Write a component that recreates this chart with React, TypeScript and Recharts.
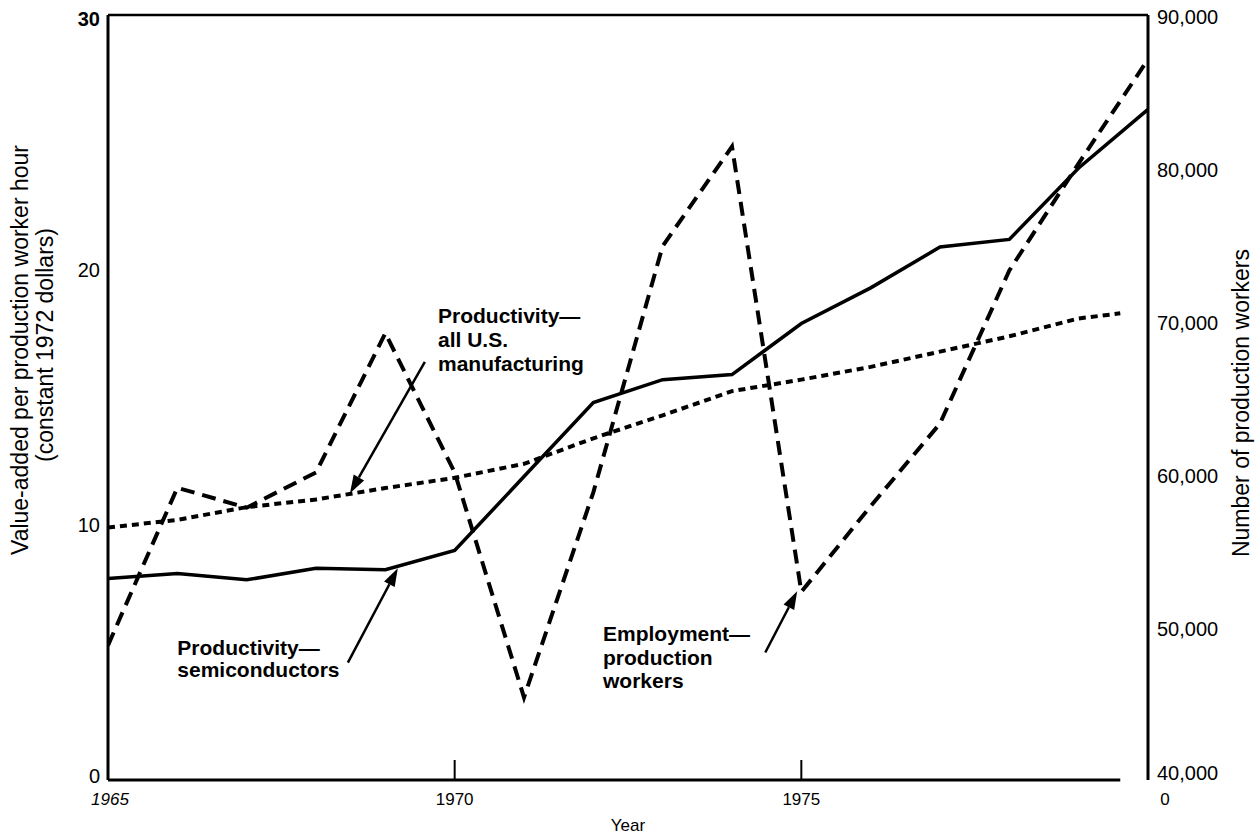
import { LineChart, Line, XAxis, YAxis, ReferenceLine, ReferenceDot } from 'recharts';

const FONT = '"Liberation Sans", Arial, Helvetica, sans-serif';

// yearly points, 1965-1980
const years = [1965, 1966, 1967, 1968, 1969, 1970, 1971, 1972, 1973, 1974, 1975, 1976, 1977, 1978, 1979, 1980];
// value-added per production worker hour, constant 1972 dollars
const semiconductorProductivity = [7.9, 8.1, 7.85, 8.3, 8.25, 9.0, 11.9, 14.8, 15.7, 15.9, 17.9, 19.3, 20.9, 21.2, 24.0, 26.3];
// number of production workers
const productionWorkers = [48800, 59100, 57800, 60100, 69200, 60100, 45400, 58800, 74900, 81400, 52300, 57900, 63300, 73300, 80300, 87100];
// all U.S. manufacturing stops a little before the end
const manufacturingYears = [1965, 1966, 1967, 1968, 1969, 1970, 1971, 1972, 1973, 1974, 1975, 1976, 1977, 1978, 1979, 1979.6];
const manufacturingProductivity = [9.9, 10.2, 10.7, 11.0, 11.45, 11.85, 12.4, 13.4, 14.3, 15.25, 15.7, 16.2, 16.8, 17.4, 18.1, 18.3];

const leftTicks = [0, 10, 20, 30];
const rightTicks = [40000, 50000, 60000, 70000, 80000, 90000];
const yearTicks = [1965, 1970, 1975, 1980];

const semiData = years.map((year, i) => ({ year, value: semiconductorProductivity[i] }));
const workerData = years.map((year, i) => ({ year, value: productionWorkers[i] }));
const manufData = manufacturingYears.map((year, i) => ({ year, value: manufacturingProductivity[i] }));

function LeftTick({ x, y, payload }: any) {
  const v = payload.value;
  return (
    <text x={x} y={v === 0 ? y - 4 : v === 30 ? y + 4 : y} textAnchor="end" dominantBaseline="central"
      fontFamily={FONT} fontSize={20} fontWeight={v === 30 ? 'bold' : 'normal'} fill="#000">
      {v}
    </text>
  );
}

function RightTick({ x, y, payload }: any) {
  const v = payload.value;
  return (
    <text x={x} y={v === 40000 ? y - 7 : y + 2} textAnchor="start" dominantBaseline="central"
      fontFamily={FONT} fontSize={20} fill="#000">
      {v.toLocaleString('en-US')}
    </text>
  );
}

function YearTick({ x, y, payload }: any) {
  const v = payload.value;
  if (v === 1980) {
    return (
      <text x={x + 17} y={y + 19} textAnchor="middle" dominantBaseline="central" fontFamily={FONT} fontSize={17} fill="#000">
        0
      </text>
    );
  }
  return (
    <g>
      {v !== 1965 && <line x1={x} x2={x} y1={y - 20} y2={y} stroke="#000" strokeWidth={2} />}
      <text x={v === 1965 ? x + 2 : x} y={y + 19} textAnchor="middle" dominantBaseline="central" fontFamily={FONT}
        fontSize={17} fontStyle={v === 1965 ? 'italic' : 'normal'} fill="#000">
        {v}
      </text>
    </g>
  );
}

function Arrow({ x1, y1, x2, y2 }: any) {
  const ang = Math.atan2(y2 - y1, x2 - x1);
  const len = 18;
  const half = 6;
  const bx = x2 - len * Math.cos(ang);
  const by = y2 - len * Math.sin(ang);
  const px = -Math.sin(ang) * half;
  const py = Math.cos(ang) * half;
  return (
    <g>
      <line x1={x1} y1={y1} x2={bx} y2={by} stroke="#000" strokeWidth={2.5} />
      <polygon points={`${x2},${y2} ${bx + px},${by + py} ${bx - px},${by - py}`} fill="#000" />
    </g>
  );
}

function note(lines: string[], gap: number) {
  return ({ cx, cy }: any) => (
    <text x={cx} y={cy} dominantBaseline="central" fontFamily={FONT} fontSize={21} fontWeight="bold" fill="#000">
      {lines.map((l, i) => (
        <tspan key={l} x={cx} dy={i === 0 ? 0 : gap}>
          {l}
        </tspan>
      ))}
    </text>
  );
}

function LeftTitle() {
  const cy = 350;
  return (
    <g fontFamily={FONT} fontSize={23} fill="#000" textAnchor="middle">
      <text x={20} y={cy} transform={`rotate(-90 20 ${cy})`} dominantBaseline="central">
        Value-added per production worker hour
      </text>
      <text x={45} y={cy - 5} transform={`rotate(-90 45 ${cy - 5})`} dominantBaseline="central">
        (constant 1972 dollars)
      </text>
    </g>
  );
}

function RightTitle({ viewBox }: any) {
  const cy = 403;
  const cx = viewBox.x + 93;
  return (
    <text x={cx} y={cy} transform={`rotate(-90 ${cx} ${cy})`} textAnchor="middle" dominantBaseline="central"
      fontFamily={FONT} fontSize={23} fill="#000">
      Number of production workers
    </text>
  );
}

function YearTitle({ viewBox }: any) {
  return (
    <text x={viewBox.x + viewBox.width / 2} y={825} textAnchor="middle" dominantBaseline="central"
      fontFamily={FONT} fontSize={17} fill="#000">
      Year
    </text>
  );
}

export default function App() {
  return (
    <div style={{ position: 'absolute', left: 0, top: 0, width: 1258, height: 836, background: '#fff' }}>
      <LineChart width={1258} height={836} margin={{ top: 15, right: 0, bottom: 0, left: 0 }}>
        <XAxis dataKey="year" type="number" domain={[1965, 1980]} ticks={yearTicks} allowDataOverflow
          axisLine={false} tickLine={false} tickSize={0} tickMargin={0} height={56} tick={<YearTick />}
          label={{ content: <YearTitle /> }} />
        <YAxis yAxisId="left" domain={[0, 30]} ticks={leftTicks} width={108} allowDataOverflow
          axisLine={{ stroke: '#000', strokeWidth: 3 }} tickLine={false} tickSize={0} tickMargin={8}
          tick={<LeftTick />} label={{ content: <LeftTitle /> }} />
        <YAxis yAxisId="right" orientation="right" domain={[40000, 90000]} ticks={rightTicks} width={110}
          allowDataOverflow axisLine={{ stroke: '#000', strokeWidth: 3 }} tickLine={false} tickSize={0}
          tickMargin={9} tick={<RightTick />} label={{ content: <RightTitle /> }} />

        <ReferenceLine yAxisId="left" y={30} stroke="#000" strokeWidth={2.5} />
        <ReferenceLine yAxisId="left" segment={[{ x: 1965, y: 0 }, { x: 1979.6, y: 0 }]} stroke="#000" strokeWidth={3} />

        <Line yAxisId="left" data={manufData} dataKey="value" stroke="#000" strokeWidth={4}
          strokeDasharray="7 5" dot={false} isAnimationActive={false} />
        <Line yAxisId="right" data={workerData} dataKey="value" stroke="#000" strokeWidth={4}
          strokeDasharray="14 8" dot={false} isAnimationActive={false} />
        <Line yAxisId="left" data={semiData} dataKey="value" stroke="#000" strokeWidth={3.5}
          dot={false} isAnimationActive={false} />

        <ReferenceLine yAxisId="left" segment={[{ x: 1969.57, y: 16.4 }, { x: 1968.49, y: 11.25 }]} shape={(p: any) => <Arrow {...p} />} />
        <ReferenceLine yAxisId="left" segment={[{ x: 1968.46, y: 4.6 }, { x: 1969.18, y: 8.3 }]} shape={(p: any) => <Arrow {...p} />} />
        <ReferenceLine yAxisId="left" segment={[{ x: 1974.48, y: 5.0 }, { x: 1974.94, y: 7.4 }]} shape={(p: any) => <Arrow {...p} />} />

        <ReferenceDot yAxisId="left" x={1969.76} y={18.24} r={0}
          shape={note(['Productivity—', 'all U.S.', 'manufacturing'], 24)} />
        <ReferenceDot yAxisId="left" x={1966.0} y={5.22} r={0}
          shape={note(['Productivity—', 'semiconductors'], 22)} />
        <ReferenceDot yAxisId="left" x={1972.14} y={5.76} r={0}
          shape={note(['Employment—', 'production', 'workers'], 23.5)} />
      </LineChart>
    </div>
  );
}
